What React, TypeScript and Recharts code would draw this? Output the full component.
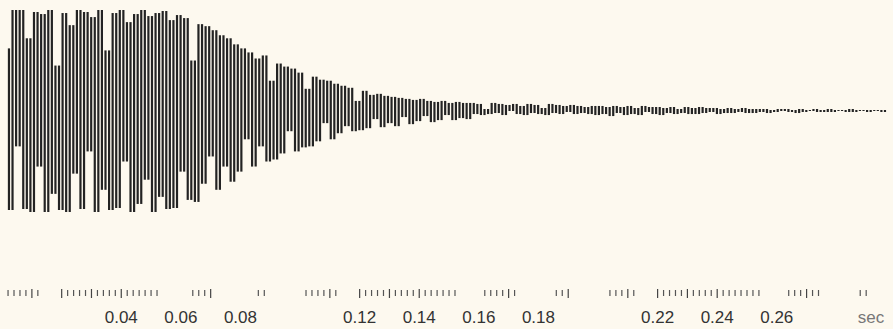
import { BarChart, Bar, XAxis, YAxis } from 'recharts'

// sample spacing of the decimated recording, in seconds
const T_START = 0.0022
const SAMPLE_STEP = 0.0012

// normalised amplitude, one value per sample (1 = full scale)
const ATTACK = [
  0.62, -0.98, 1.0, -0.35, 1.0, -0.97, 0.72, -1.0, 0.98, -0.55, 0.96, -1.0, 1.0, -0.82, 0.45, -0.98,
  0.97, -1.0, 0.85, -0.62, 1.0, -0.97, 0.98, -0.4, 0.93, -1.0, 1.0, -0.78, 0.6, -0.98, 0.97, -0.96,
  1.0, -0.5, 0.88, -1.0, 0.96, -0.92, 1.0, -0.68, 0.94, -1.0, 0.97, -0.85, 0.99, -0.97, 0.9, -0.96,
]
const DECAY = [
  0.95, -0.6, 0.92, -0.88, 0.5, -0.9, 0.86, -0.72, 0.84, -0.45, 0.8, -0.78, 0.75, -0.55, 0.72, -0.7, 0.66,
  -0.6, 0.62, -0.28, 0.58, -0.55, 0.52, -0.35, 0.55, -0.5, 0.3, -0.48, 0.47, -0.42, 0.44, -0.2, 0.42, -0.4,
  0.38, -0.36, 0.22, -0.35, 0.34, -0.3, 0.31, -0.12, 0.3, -0.28, 0.27, -0.22, 0.25, -0.15,
  0.23, -0.2, 0.1, -0.19, 0.2, -0.17, 0.16, -0.08, 0.17, -0.16, 0.15, -0.12, 0.14, -0.15,
  0.13, -0.06, 0.12, -0.13, 0.11, -0.1, 0.12, -0.05, 0.1, -0.11, 0.09, -0.09, 0.1, -0.04, 0.08, -0.09,
  0.09, -0.07, 0.08, -0.08,
]
const TAIL = [
  0.08, -0.03, 0.07, -0.04, 0.02, -0.03, 0.08, -0.02, 0.07, -0.04, 0.06, 0.0, 0.07, -0.03, 0.05, -0.04,
  0.07, -0.02, 0.06, -0.03, 0.03, -0.04, 0.07, -0.02, 0.06, -0.03, 0.05, -0.01, 0.06, -0.03, 0.05, -0.02,
  0.04, -0.03, 0.05,
  -0.04, 0.05, -0.03, 0.04, -0.05, 0.05, -0.02, 0.04, -0.04, 0.05, -0.03, 0.03, -0.04, 0.05, -0.01, 0.04,
  -0.03, 0.04, -0.04, 0.03, -0.02, 0.04, -0.03, 0.02, -0.02, 0.04, -0.03, 0.03, -0.03, 0.04, -0.02, 0.03,
  -0.01, 0.03, -0.03, 0.02, -0.02, 0.03, -0.02, 0.02, -0.01, 0.03, -0.02, 0.02, -0.02,
  0.02, -0.01, 0.02, -0.02, 0.01, -0.01, 0.02, 0.0, 0.02, -0.01, 0.01, -0.02, 0.02, -0.01, 0.01, 0.0,
  0.02, -0.01, 0.01, -0.01, 0.02, -0.01, 0.01, 0.0, 0.01, -0.01, 0.02, -0.01, 0.01, 0.0, 0.01, -0.01,
  0.01, 0.0, 0.01, -0.01, 0.01,
]

// ruler marks along the time axis (seconds)
const MAJOR_TICKS = [
  0.01, 0.02, 0.03, 0.04, 0.07, 0.11, 0.12, 0.13, 0.14, 0.17, 0.19, 0.21, 0.22, 0.23, 0.24, 0.27,
]
const MINOR_TICKS = [
  0.002, 0.004, 0.006, 0.008, 0.012,
  0.022, 0.024, 0.026, 0.028, 0.032, 0.034, 0.036, 0.038, 0.042, 0.044, 0.046, 0.048, 0.05, 0.052,
  0.064, 0.066, 0.068, 0.086, 0.088,
  0.102, 0.104, 0.106, 0.108, 0.112,
  0.122, 0.124, 0.126, 0.128, 0.132, 0.134, 0.136, 0.138, 0.142, 0.144, 0.146, 0.148, 0.15, 0.152,
  0.162, 0.164, 0.166, 0.168, 0.172, 0.186, 0.188,
  0.204, 0.206, 0.208, 0.212,
  0.222, 0.224, 0.226, 0.228, 0.232, 0.234, 0.236, 0.238, 0.242, 0.244, 0.246, 0.248, 0.25, 0.252, 0.254,
  0.264, 0.266, 0.268, 0.272, 0.274, 0.288, 0.29,
]
const LABEL_TIMES = [0.04, 0.06, 0.08, 0.12, 0.14, 0.16, 0.18, 0.22, 0.24, 0.26, 0.2916]
const LABEL_TEXT = ['0.04', '0.06', '0.08', '0.12', '0.14', '0.16', '0.18', '0.22', '0.24', '0.26', 'sec']

const SAMPLES = [...ATTACK, ...DECAY, ...TAIL]

// each pixel column shows the span swept between two neighbouring samples
const columns = SAMPLES.slice(0, -1).map((v, i) => {
  const next = SAMPLES[i + 1]
  return {
    t: +(T_START + i * SAMPLE_STEP).toFixed(5),
    span: [Math.min(v, next), Math.max(v, next)],
  }
})

const key = (t: number) => Math.round(t * 10000)
const majorSet = new Set(MAJOR_TICKS.map(key))
const minorSet = new Set(MINOR_TICKS.map(key))
const labelMap = new Map(LABEL_TIMES.map((t, i) => [key(t), LABEL_TEXT[i]]))
const allTicks = Array.from(new Set([...MAJOR_TICKS, ...MINOR_TICKS, ...LABEL_TIMES])).sort((a, b) => a - b)

function RulerTick(props: any) {
  const { x, payload } = props
  const k = key(payload.value)
  const label = labelMap.get(k)
  return (
    <g>
      {majorSet.has(k) && <line x1={x} x2={x} y1={289} y2={298} stroke="#444" strokeWidth={1.2} />}
      {minorSet.has(k) && <line x1={x} x2={x} y1={290} y2={296} stroke="#555" strokeWidth={1.2} />}
      {label && (
        <text
          x={x}
          y={323}
          textAnchor="middle"
          fontFamily="'Liberation Sans', Arial, sans-serif"
          fontSize={17}
          fill={label === 'sec' ? '#777' : '#333'}
        >
          {label}
        </text>
      )}
    </g>
  )
}

export default function App() {
  return (
    <div style={{ position: 'absolute', left: 0, top: 0, width: 893, height: 329, background: '#fdf9ef' }}>
      <BarChart width={893} height={329} data={columns} margin={{ top: 10, right: 0, bottom: 0, left: 0 }}>
        <XAxis
          dataKey="t"
          type="number"
          domain={[-0.0007, 0.299]}
          ticks={allTicks}
          interval={0}
          height={40}
          axisLine={false}
          tickLine={false}
          tick={<RulerTick />}
        />
        <YAxis hide domain={[-1.762, 1]} allowDataOverflow />
        <Bar dataKey="span" fill="#232323" barSize={2.2} isAnimationActive={false} />
      </BarChart>
    </div>
  )
}
